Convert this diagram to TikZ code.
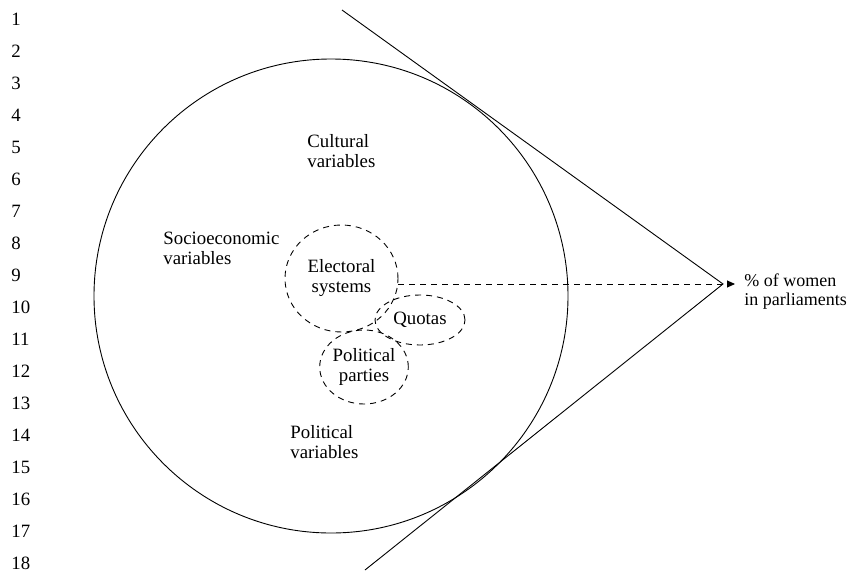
\documentclass[tikz,border=0pt]{standalone}
\usepackage{fontspec}
\setmainfont{Liberation Serif}
\usetikzlibrary{shapes.geometric,arrows.meta}

\begin{document}
\begin{tikzpicture}[x=1pt, y=-1pt, line width=0.9pt,
  every node/.style={font=\fontsize{18.8}{20}\selectfont, inner sep=0pt},
  rotulo/.style={anchor=north west, align=left},
  punteado/.style={dash pattern=on 6pt off 5pt},
  burbuja/.style={ellipse, draw, punteado, align=center}]
\useasboundingbox (0,0) rectangle (852,571);

% Numeros de linea
\foreach \n in {1,...,18}
  \node[anchor=west] (num\n) at (11, {19+32*(\n-1)}) {\n};

% Circulo grande y tangentes
\draw (331,296) circle (237);
\coordinate (vertice) at (723,284);
\coordinate (arriba) at (342,10);
\coordinate (abajo) at (365,570);
\draw (arriba) -- (vertice) -- (abajo);

% Grupos de variables
\node[rotulo] (cultural) at (307,134) {Cultural\\variables};
\node[rotulo] (socio) at (163,232) {Socioeconomic\\variables};
\node[rotulo] (politica) at (290,425) {Political\\variables};

% Burbujas punteadas
\node[burbuja, minimum width=113pt, minimum height=107pt] (electoral) at (341.5,278.5) {Electoral\\systems};
\node[burbuja, minimum width=90pt, minimum height=50pt] (cuotas) at (420,320) {Quotas};
\node[burbuja, minimum width=88pt, minimum height=74pt] (partidos) at (364,367) {Political\\parties};

% Resultado
\node[anchor=west, align=left, font=\fontsize{18}{19}\selectfont] (mujeres) at (744,292) {\% of women\\in parliaments};
\draw[punteado, -{Triangle[length=8pt,width=7pt]}] (electoral.east |- vertice) -- ([xshift=-9pt]mujeres.west |- vertice);
\end{tikzpicture}
\end{document}
